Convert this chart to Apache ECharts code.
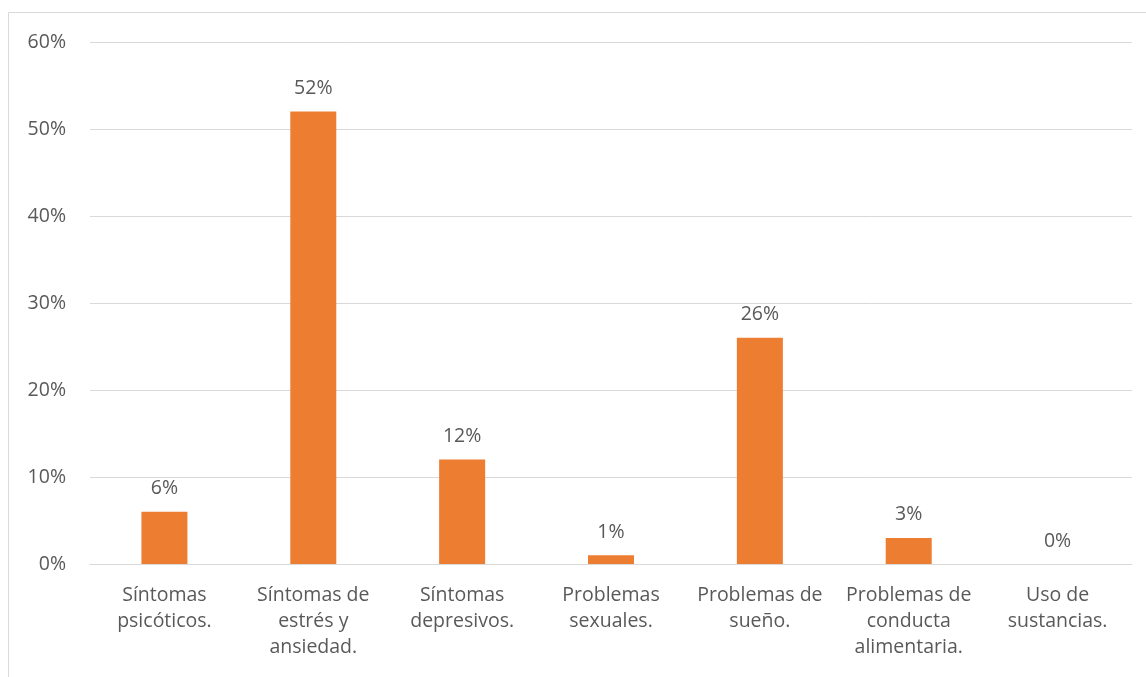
<!DOCTYPE html>
<html>
<head>
<meta charset="utf-8">
<script src="https://cdn.jsdelivr.net/npm/echarts@6/dist/echarts.min.js"></script>
<style>
  html, body { margin: 0; padding: 0; background: #fff; }
  #chart { width: 1146px; height: 677px; }
</style>
</head>
<body>
<div id="chart"></div>
<script>
// Categories (line breaks as shown under the axis)
const categories = [
  'Síntomas\npsicóticos.',
  'Síntomas de\nestrés y\nansiedad.',
  'Síntomas\ndepresivos.',
  'Problemas\nsexuales.',
  'Problemas de\nsueño.',
  'Problemas de\nconducta\nalimentaria.',
  'Uso de\nsustancias.'
];
// Percentages per category
const values = [6, 52, 12, 1, 26, 3, 0];
// Value axis range and step
const yMin = 0;
const yMax = 60;
const yStep = 10;

const FONT = '"Open Sans", "DejaVu Sans", sans-serif';
const TEXT = '#595959';

const chart = echarts.init(document.getElementById('chart'), null, { renderer: 'canvas' });
chart.setOption({
  animation: false,
  backgroundColor: '#ffffff',
  graphic: [{
    type: 'rect',
    shape: { x: 8.5, y: 12.5, width: 1160, height: 700 },
    style: { fill: 'none', stroke: '#d9d9d9', lineWidth: 1 },
    silent: true
  }],
  grid: { left: 90, right: 14, top: 42, bottom: 113, containLabel: false },
  xAxis: {
    type: 'category',
    data: categories,
    axisLine: { show: true, lineStyle: { color: '#d9d9d9', width: 1 } },
    axisTick: { show: false },
    axisLabel: {
      color: TEXT,
      fontFamily: FONT,
      fontSize: 19.5,
      lineHeight: 26,
      margin: 18,
      interval: 0
    }
  },
  yAxis: {
    type: 'value',
    min: yMin,
    max: yMax,
    interval: yStep,
    axisLine: { show: false },
    axisTick: { show: false },
    splitLine: { lineStyle: { color: '#d9d9d9', width: 1 } },
    axisLabel: {
      color: TEXT,
      fontFamily: FONT,
      fontSize: 19.5,
      margin: 24,
      formatter: v => v + '%'
    }
  },
  series: [{
    type: 'bar',
    data: values,
    barWidth: 46,
    itemStyle: { color: '#ED7D31' },
    label: {
      show: true,
      position: 'top',
      distance: 13,
      color: TEXT,
      fontFamily: FONT,
      fontSize: 19.5,
      formatter: p => p.value + '%'
    }
  }]
});
</script>
</body>
</html>
